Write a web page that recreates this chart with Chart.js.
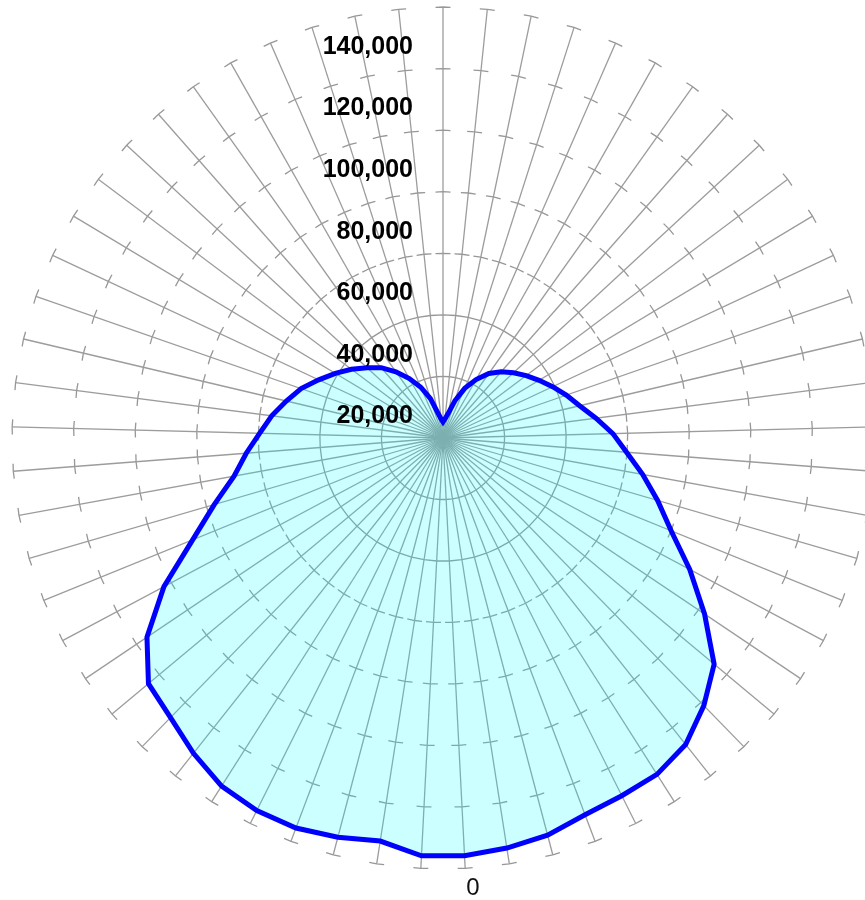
<!DOCTYPE html>
<html>
<head>
<meta charset="utf-8">
<script src="https://cdn.jsdelivr.net/npm/chart.js@4/dist/chart.umd.min.js"></script>
<style>
  html, body { margin: 0; padding: 0; background: #ffffff; overflow: hidden; }
  #wrap { position: absolute; left: 0; top: 0; width: 886px; height: 900px; }
</style>
</head>
<body>
<div id="wrap"><canvas id="polar" width="886" height="900"></canvas></div>
<script>
// Angle categories (degrees), one spoke each
const angleLabels = [
  '0','6','12','18','24','30','36','42','48','54',
  '60','66','72','78','84','90','96','102','108','114',
  '120','126','132','138','144','150','156','162','168','174',
  '180','186','192','198','204','210','216','222','228','234',
  '240','246','252','258','264','270','276','282','288','294',
  '300','306','312','318','324','330','336','342','348','354',
  '360'
];

// Intensity per angle
const intensity = [
  135900, 135900, 132500, 134100, 135400, 135300, 134000, 130600, 126800, 124600,
  115900, 102700,  87800,  77400,  69000,  64100,  59600,  56100,  52300,  48800,
   44600,  40800,  37200,  33600,  30400,  26400,  22200,  18000,  13400,   8400,
    6200,   5200,   6200,   8100,  12700,  17600,  21800,  25700,  28600,  31200,
   33800,  36400,  39300,  42400,  45600,  50100,  55200,  59800,  65900,  72600,
   80000,  90800, 102400, 114700, 121400, 127000, 129500, 129900, 130800, 133400,
  134800
];

// Radial tick values
const radialTicks = [0, 20000, 40000, 60000, 80000, 100000, 120000, 140000];

const RING_DASH = 15;

// Draws the radial value labels and the first angle label on top of the plot
const labelPlugin = {
  id: 'labelPlugin',
  afterDraw(chart) {
    const s = chart.scales.r;
    const ctx = chart.ctx;
    ctx.save();
    ctx.fillStyle = '#000000';
    ctx.font = 'bold 25px "Liberation Sans", Arial, sans-serif';
    ctx.textAlign = 'right';
    ctx.textBaseline = 'middle';
    s.ticks.forEach(t => {
      if (t.value <= 0) return;
      const r = s.getDistanceFromCenterForValue(t.value);
      ctx.fillText(t.label, s.xCenter - 30, s.yCenter - r + 40);
    });
    const p = s.getPointPosition(0, s.drawingArea + 20);
    ctx.font = '24px "Liberation Sans", Arial, sans-serif';
    ctx.textAlign = 'left';
    ctx.fillStyle = '#111111';
    ctx.fillText(angleLabels[0], p.x, p.y);
    ctx.restore();
  }
};

new Chart(document.getElementById('polar'), {
  type: 'radar',
  data: {
    labels: angleLabels,
    datasets: [{
      data: intensity,
      borderColor: '#0000ff',
      borderWidth: 5,
      backgroundColor: 'rgba(0, 255, 255, 0.2)',
      fill: true,
      pointRadius: 0,
      pointHoverRadius: 0,
      tension: 0
    }]
  },
  options: {
    responsive: false,
    animation: false,
    devicePixelRatio: 1,
    layout: { padding: { top: 7, bottom: 31, left: 0, right: 0 } },
    plugins: { legend: { display: false }, tooltip: { enabled: false } },
    scales: {
      r: {
        min: 0,
        max: 140000,
        startAngle: 180 - 180 / 61,
        afterBuildTicks(scale) {
          scale.ticks = radialTicks.map(v => ({ value: v }));
        },
        ticks: { display: false },
        pointLabels: { display: false },
        angleLines: { display: true, color: '#9c9c9c', lineWidth: 1.3 },
        grid: { display: true, color: '#979797', lineWidth: 1.3, circular: false },
        border: {
          dash(ctx) {
            if (!ctx.tick || !ctx.scale) return [];
            const r = ctx.scale.getDistanceFromCenterForValue(ctx.tick.value);
            const edge = 2 * r * Math.sin(Math.PI / angleLabels.length);
            return edge > RING_DASH + 1 ? [RING_DASH, edge - RING_DASH] : [];
          },
          dashOffset: RING_DASH / 2
        }
      }
    }
  },
  plugins: [labelPlugin]
});
</script>
</body>
</html>
